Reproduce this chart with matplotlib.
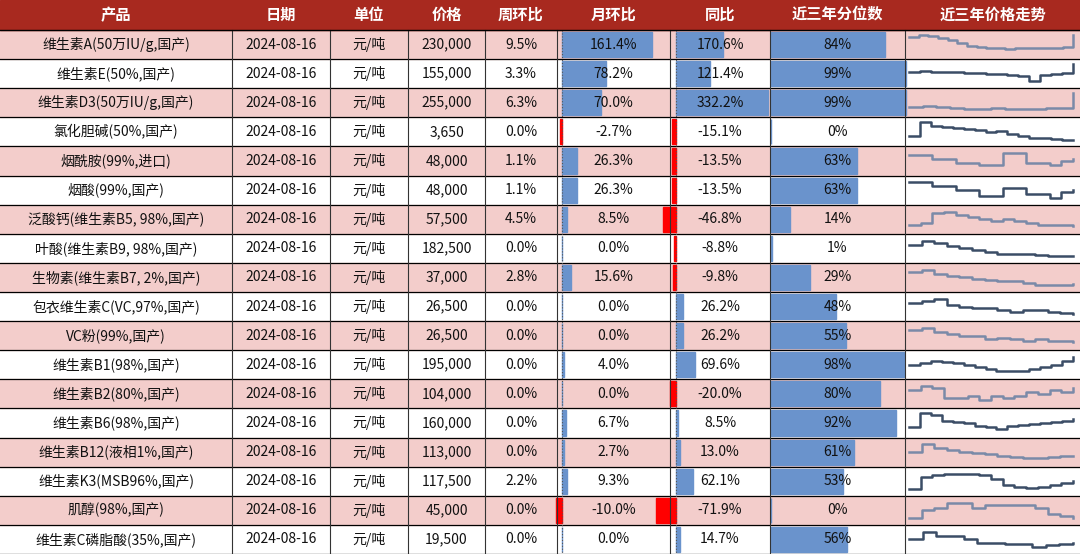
import matplotlib
matplotlib.use("Agg")
import matplotlib.pyplot as plt
from matplotlib.patches import Rectangle

plt.rcParams['font.family'] = ['Noto Sans CJK SC', 'DejaVu Sans']

headers = ["产品", "日期", "单位", "价格", "周环比", "月环比", "同比", "近三年分位数", "近三年价格走势"]
products = ["维生素A(50万IU/g,国产)", "维生素E(50%,国产)", "维生素D3(50万IU/g,国产)", "氯化胆碱(50%,国产)",
            "烟酰胺(99%,进口)", "烟酸(99%,国产)", "泛酸钙(维生素B5, 98%,国产)", "叶酸(维生素B9, 98%,国产)",
            "生物素(维生素B7, 2%,国产)", "包衣维生素C(VC,97%,国产)", "VC粉(99%,国产)", "维生素B1(98%,国产)",
            "维生素B2(80%,国产)", "维生素B6(98%,国产)", "维生素B12(液相1%,国产)", "维生素K3(MSB96%,国产)",
            "肌醇(98%,国产)", "维生素C磷脂酸(35%,国产)"]
date = "2024-08-16"
unit = "元/吨"
prices = [230000, 155000, 255000, 3650, 48000, 48000, 57500, 182500, 37000, 26500, 26500, 195000,
          104000, 160000, 113000, 117500, 45000, 19500]
wow = [9.5, 3.3, 6.3, 0.0, 1.1, 1.1, 4.5, 0.0, 2.8, 0.0, 0.0, 0.0, 0.0, 0.0, 0.0, 2.2, 0.0, 0.0]
mom = [161.4, 78.2, 70.0, -2.7, 26.3, 26.3, 8.5, 0.0, 15.6, 0.0, 0.0, 4.0, 0.0, 6.7, 2.7, 9.3, -10.0, 0.0]
yoy = [170.6, 121.4, 332.2, -15.1, -13.5, -13.5, -46.8, -8.8, -9.8, 26.2, 26.2, 69.6, -20.0, 8.5, 13.0, 62.1, -71.9, 14.7]
pct = [84, 99, 99, 0, 63, 63, 14, 1, 29, 48, 55, 98, 80, 92, 61, 53, 0, 56]
trends = [
    [0.9,1,0.95,0.85,0.75,0.6,0.45,0.35,0.3,0.3,0.28,0.3,0.3,0.3,0.32,0.32,0.35,1.0],
    [0.6,0.62,0.6,0.58,0.57,0.55,0.53,0.5,0.48,0.45,0.4,0.1,0.45,0.5,0.55,1.0],
    [0.3,0.35,0.3,0.25,0.2,0.2,0.22,0.2,0.2,0.2,0.22,0.25,1.0],
    [0.3,1,0.8,0.75,0.7,0.65,0.6,0.5,0.55,0.4,0.3,0.2,0.2,0.15,0.1,0.1],
    [0.8,0.8,0.6,0.6,0.4,0.4,0.3,0.3,0.9,0.9,0.4,0.4,0.3,0.5,0.6],
    [0.9,0.9,0.7,0.7,0.5,0.5,0.2,0.2,0.6,0.6,0.3,0.3,0.1,0.4,0.5],
    [0.2,0.3,0.8,0.9,0.7,0.6,0.5,0.4,0.5,0.4,0.3,0.2,0.2,0.2,0.15],
    [0.7,0.9,0.8,0.6,0.5,0.4,0.3,0.2,0.2,0.2,0.15,0.1,0.1,0.1],
    [0.8,0.9,0.7,0.6,0.5,0.4,0.35,0.3,0.3,0.2,0.1,0.1,0.1,0.15],
    [0.7,0.8,0.9,0.6,0.5,0.4,0.4,0.3,0.2,0.3,0.3,0.2,0.15,0.1],
    [0.8,0.9,0.7,0.6,0.5,0.5,0.3,0.4,0.3,0.2,0.3,0.2,0.2,0.15],
    [0.5,0.6,0.7,0.65,0.6,0.5,0.4,0.3,0.2,0.15,0.2,0.3,0.4,0.5,0.7,0.9],
    [0.7,0.9,0.8,0.3,0.3,0.4,0.2,0.4,0.3,0.4,0.6,0.5,0.7,0.6,0.8],
    [0.3,1,0.9,0.6,0.55,0.5,0.35,0.3,0.2,0.35,0.4,0.45,0.5,0.55,0.6,0.7],
    [0.5,0.9,0.7,0.6,0.5,0.45,0.4,0.3,0.25,0.2,0.2,0.25,0.3,0.3],
    [0.1,0.7,0.8,0.9,0.9,0.9,0.8,0.6,0.3,0.2,0.15,0.2,0.3,0.4,0.5],
    [0.1,0.5,0.6,0.9,0.9,0.6,0.8,0.8,0.8,0.8,0.6,0.3,0.2,0.1],
    [0.5,0.9,0.7,0.7,0.5,0.3,0.3,0.25,0.25,0.1,0.2,0.25,0.3],
]

W, H = 1080, 554
fig = plt.figure(figsize=(W/100, H/100), dpi=100)
ax = fig.add_axes([0, 0, 1, 1])
ax.set_xlim(0, W); ax.set_ylim(H, 0); ax.axis('off')

cols = [0, 232, 330, 408, 485, 557, 670, 770, 905, 1080]
hh = 30
n = len(products)
rh = (H - hh) / n
pink = "#f3cdcb"
blue = "#6a93cc"
red = "#ff0000"
fs = 10

ax.add_patch(Rectangle((0, 0), W, hh, color="#a8291f"))
for i, h in enumerate(headers):
    ax.text((cols[i]+cols[i+1])/2, hh/2, h, ha='center', va='center', color='white', fontsize=11, fontweight='bold')

for r in range(n):
    y0 = hh + r*rh
    yc = y0 + rh/2
    if r % 2 == 0:
        ax.add_patch(Rectangle((0, y0), W, rh, color=pink, zorder=0))
    # bars
    # month
    mx = 562; ms = 90/161.4
    ax.add_patch(Rectangle((mx, y0+2), mom[r]*ms, rh-4, color=red if mom[r] < 0 else blue, zorder=1))
    yx = 676; ys = 92/332.2
    ax.add_patch(Rectangle((yx, y0+2), yoy[r]*ys, rh-4, color=red if yoy[r] < 0 else blue, zorder=1))
    ax.add_patch(Rectangle((771, y0+2), pct[r]*1.36, rh-4, color=blue, zorder=1))
    vals = [products[r], date, unit, f"{prices[r]:,}", f"{wow[r]:.1f}%", f"{mom[r]:.1f}%", f"{yoy[r]:.1f}%", f"{pct[r]}%"]
    for i, v in enumerate(vals):
        ax.text((cols[i]+cols[i+1])/2, yc, v, ha='center', va='center', fontsize=fs, color='#111111', zorder=3)
    # sparkline
    t = trends[r]
    xs = [909 + k*(1073-909)/(len(t)-1) for k in range(len(t))]
    yy = [y0 + rh - 5 - v*(rh-10) for v in t]
    ax.plot(xs, yy, drawstyle='steps-post', color="#7a8aa8" if r % 2 == 0 else "#3b4d66", lw=1.8, zorder=3)
    ax.plot([0, W], [y0+rh, y0+rh], color='black', lw=0.9, zorder=4)

for x in cols[1:-1]:
    ax.plot([x, x], [hh, H], color='#333333', lw=0.8, zorder=4)
ax.plot([562, 562], [hh, H], color='#555555', lw=0.8, ls=':', zorder=4)
ax.plot([676, 676], [hh, H], color='#555555', lw=0.8, ls=':', zorder=4)
ax.plot([0, W], [hh, hh], color='black', lw=1, zorder=4)

fig.savefig("out.png", dpi=100)
